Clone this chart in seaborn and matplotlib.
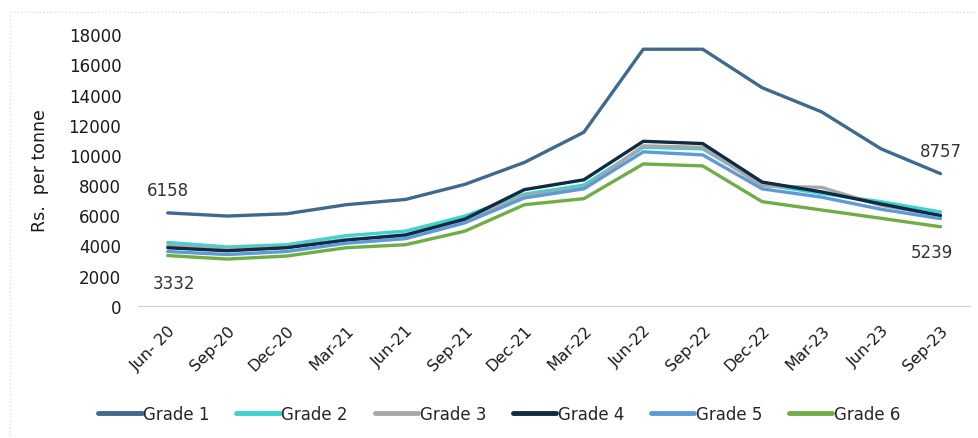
import numpy as np
import pandas as pd
import matplotlib
matplotlib.use('Agg')
import matplotlib.pyplot as plt
import seaborn as sns

sns.set_style('white')
plt.rcParams['font.family'] = ['DejaVu Sans']

quarters = ['Jun- 20', 'Sep-20', 'Dec-20', 'Mar-21', 'Jun-21', 'Sep-21', 'Dec-21',
            'Mar-22', 'Jun-22', 'Sep-22', 'Dec-22', 'Mar-23', 'Jun-23', 'Sep-23']

grade1 = [6158, 5950, 6100, 6700, 7050, 8050, 9500, 11500, 17000, 17000, 14450, 12850, 10400, 8757]
grade2 = [4200, 3900, 4050, 4650, 4950, 5950, 7400, 8000, 10500, 10400, 8050, 7450, 6900, 6220]
grade3 = [4000, 3750, 3900, 4400, 4650, 5700, 7300, 7800, 10600, 10500, 7950, 7850, 6650, 6000]
grade4 = [3850, 3650, 3850, 4350, 4700, 5750, 7700, 8350, 10900, 10750, 8200, 7550, 6750, 5980]
grade5 = [3600, 3400, 3600, 4150, 4450, 5500, 7150, 7750, 10200, 10000, 7750, 7200, 6400, 5780]
grade6 = [3332, 3100, 3300, 3850, 4050, 4950, 6700, 7100, 9400, 9270, 6900, 6350, 5800, 5239]

grades = ['Grade 1', 'Grade 2', 'Grade 3', 'Grade 4', 'Grade 5', 'Grade 6']
colors = ['#3D6A8E', '#3CD3D0', '#A8A8A8', '#0F2A45', '#5E9BD6', '#6FAE45']

df = pd.DataFrame({'Quarter': quarters, 'Grade 1': grade1, 'Grade 2': grade2,
                   'Grade 3': grade3, 'Grade 4': grade4, 'Grade 5': grade5,
                   'Grade 6': grade6})
df['pos'] = range(len(quarters))
long = df.melt(id_vars=['Quarter', 'pos'], var_name='Grade', value_name='Price')

fig = plt.figure(figsize=(9.79, 4.39), dpi=100)
ax = fig.add_axes([0.141, 0.301, 0.850, 0.619])

sns.lineplot(data=long, x='pos', y='Price', hue='Grade', hue_order=grades,
             palette=colors, linewidth=2.4, ax=ax, legend=False)

ax.set_ylim(0, 18000)
ax.set_xlim(-0.5, len(quarters) - 0.5)
ax.set_yticks(np.arange(0, 18001, 2000))
ax.tick_params(axis='y', labelsize=12, length=0, pad=12, labelcolor='#1a1a1a')
ax.set_xticks(range(len(quarters)))
ax.set_xticklabels(quarters, rotation=45, ha='right', rotation_mode='anchor',
                   fontsize=11.5, color='#1a1a1a')
ax.set_xticks(np.arange(-0.5, len(quarters), 1), minor=True)
ax.tick_params(axis='x', which='major', length=0, pad=12)
ax.tick_params(axis='x', which='minor', length=5, color='#d0d0d0', width=1)
ax.set_xlabel('')
ax.set_ylabel('Rs.  per tonne', fontsize=12.5, labelpad=14, color='#1a1a1a')
for s in ['top', 'right', 'left']:
    ax.spines[s].set_visible(False)
ax.spines['bottom'].set_color('#d0d0d0')

ax.text(0, 6158 + 900, '6158', ha='center', va='bottom', fontsize=12, color='#333333')
ax.text(0.1, 3332 - 1200, '3332', ha='center', va='top', fontsize=12, color='#333333')
ax.text(13.0, 8757 + 900, '8757', ha='center', va='bottom', fontsize=12, color='#333333')
ax.text(12.85, 5239 - 1100, '5239', ha='center', va='top', fontsize=12, color='#333333')

handles = [plt.Line2D([], [], color=c, linewidth=3.5) for c in colors]
fig.legend(handles, grades, loc='center', bbox_to_anchor=(0.51, 0.055), ncol=6,
           frameon=False, fontsize=12, handlelength=2.6, handletextpad=0.1,
           columnspacing=1.6)

fig.add_artist(plt.Rectangle((0.01, -0.05), 1.2, 1.02, transform=fig.transFigure,
                             fill=False, edgecolor='#dddddd', linewidth=1,
                             linestyle=':'))

fig.savefig('out.png', dpi=100)
